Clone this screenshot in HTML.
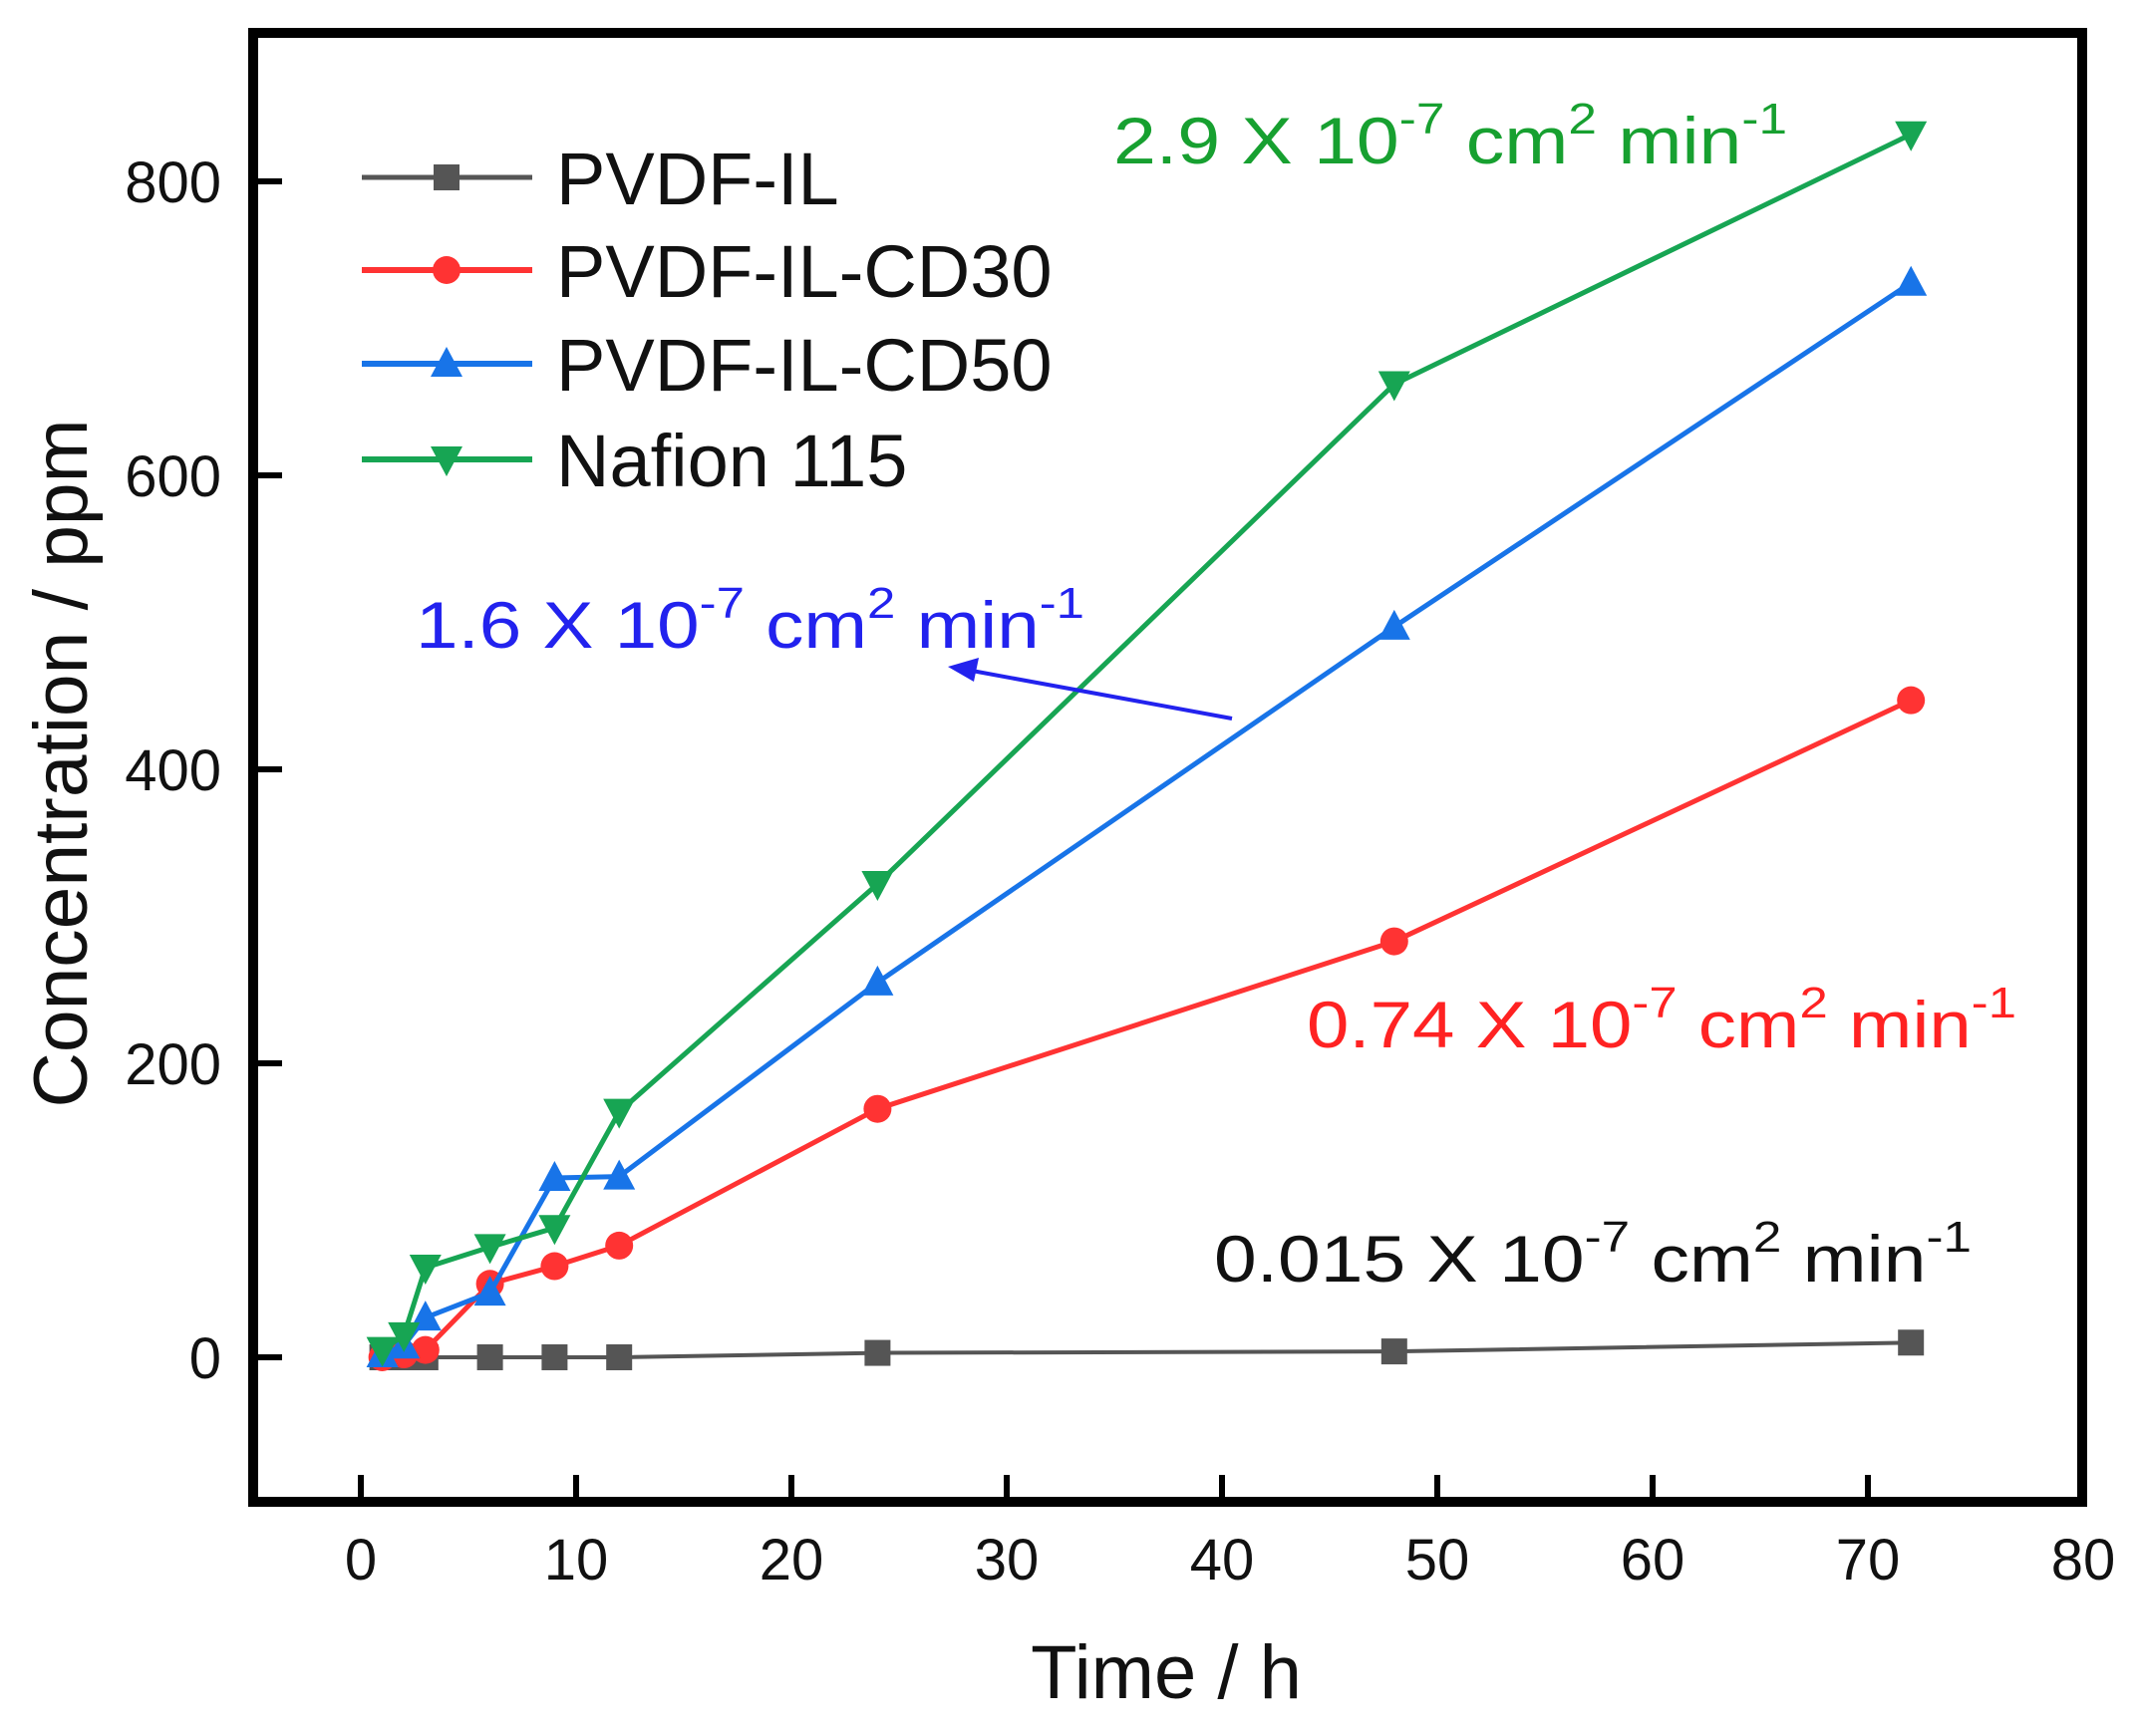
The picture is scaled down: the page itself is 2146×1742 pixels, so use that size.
<!DOCTYPE html>
<html><head><meta charset="utf-8"><style>
html,body{margin:0;padding:0;background:#fff;}
svg{display:block;font-family:"Liberation Sans",Arial,sans-serif;}
</style></head><body>
<svg id="chart" width="2146" height="1742" viewBox="0 0 2146 1742">
<g id="plot"></g>
</svg>
<script>
const times = [1, 2, 3, 6, 9, 12, 24, 48, 72];
const pvdfIL = [0, 0, 0, 0, 0, 0, 3, 4, 10];
const pvdfCD30 = [0, 2, 5, 50, 62, 76, 169, 283, 447];
const pvdfCD50 = [2, 8, 27, 44, 122, 123, 255, 497, 731];
const nafion = [5, 15, 61, 75, 88, 167, 322, 662, 832];
const xTicks = [0, 10, 20, 30, 40, 50, 60, 70, 80];
const yTicks = [0, 200, 400, 600, 800];

const NS = "http://www.w3.org/2000/svg";
const g = document.getElementById('plot');
const X = v => 362 + (v - 0) * 21.6;
const Y = v => 1362 - v * 1.475;
function el(tag, attrs, parent) {
  const e = document.createElementNS(NS, tag);
  for (const k in attrs) e.setAttribute(k, attrs[k]);
  (parent || g).appendChild(e);
  return e;
}
const frame = el('rect', {x: 254, y: 33, width: 1835, height: 1474, fill: 'none', stroke: '#000', 'stroke-width': 10});


xTicks.forEach(t => {
  const tk = el('line', {x1: X(t), x2: X(t), y1: 1507, y2: 1480, stroke: '#000', 'stroke-width': 6});
  
  
  const lb = el('text', {x: X(t), y: 1585, 'font-size': 58, 'text-anchor': 'middle', fill: '#111'});
  lb.textContent = t;
  
  
});
yTicks.forEach(t => {
  const tk = el('line', {x1: 254, x2: 283, y1: Y(t), y2: Y(t), stroke: '#000', 'stroke-width': 6});
  
  
  const lb = el('text', {x: 222, y: Y(t) + 21, 'font-size': 58, 'text-anchor': 'end', fill: '#111'});
  lb.textContent = t;
  
  
});
const xt = el('text', {x: 1170, y: 1704, 'font-size': 76, 'text-anchor': 'middle', fill: '#111'});
xt.textContent = 'Time / h';


const yt = el('text', {x: 0, y: 0, 'font-size': 76, 'text-anchor': 'middle', fill: '#111', transform: 'translate(87,766) rotate(-90)', textLength: 691, lengthAdjust: 'spacingAndGlyphs'});
yt.textContent = 'Concentration / ppm';



function marker(shape, cx, cy, color, parent) {
  let m;
  if (shape === 'square') m = el('rect', {x: cx - 13, y: cy - 13, width: 26, height: 26, fill: color}, parent);
  else if (shape === 'circle') m = el('circle', {cx: cx, cy: cy, r: 14, fill: color}, parent);
  else if (shape === 'up') m = el('polygon', {points: `${cx},${cy-17} ${cx+16},${cy+13} ${cx-16},${cy+13}`, fill: color}, parent);
  else m = el('polygon', {points: `${cx},${cy+17} ${cx+16},${cy-13} ${cx-16},${cy-13}`, fill: color}, parent);
  return m;
}
const series = [
  {name: 'PVDF-IL', vals: pvdfIL, color: '#555555', shape: 'square', w: 4, key: 'pvdf-il'},
  {name: 'PVDF-IL-CD30', vals: pvdfCD30, color: '#ff3333', shape: 'circle', w: 5, key: 'pvdf-il-cd30'},
  {name: 'PVDF-IL-CD50', vals: pvdfCD50, color: '#1874e8', shape: 'up', w: 5, key: 'pvdf-il-cd50'},
  {name: 'Nafion 115', vals: nafion, color: '#17a553', shape: 'down', w: 5, key: 'nafion-115'}
];
series.forEach((s, i) => {
  const sg = el('g', {});
  
  
  const pts = times.map((t, j) => X(t) + ',' + Y(s.vals[j])).join(' ');
  const pl = el('polyline', {points: pts, fill: 'none', stroke: s.color, 'stroke-width': s.w, 'stroke-linejoin': 'round'}, sg);
  
  
  times.forEach((t, j) => {
    const m = marker(s.shape, X(t), Y(s.vals[j]), s.color, sg);
    
    
  });
  const ly = [178, 271, 365, 461][i];
  const lg = el('g', {});
  
  
  el('line', {x1: 363, x2: 534, y1: ly, y2: ly, stroke: s.color, 'stroke-width': s.w + 1}, lg);
  marker(s.shape, 448, ly, s.color, lg);
  const lt = el('text', {x: 558, y: ly + 27, 'font-size': 74, fill: '#111'}, lg);
  lt.textContent = s.name;
});
function annot(x, y, len, color, pre, name) {
  const t = el('text', {x: x, y: y, 'font-size': 66, fill: color, textLength: len, lengthAdjust: 'spacingAndGlyphs'});
  t.innerHTML = pre + ' X 10<tspan dy="-30" font-size="44">-7</tspan><tspan dy="30"> cm</tspan><tspan dy="-30" font-size="44">2</tspan><tspan dy="30"> min</tspan><tspan dy="-30" font-size="44">-1</tspan>';
  
  
}
annot(1117, 164, 676, '#17a030', '2.9', 'nafion-rate-label');
annot(417, 650, 671, '#2222ee', '1.6', 'cd50-rate-label');
annot(1311, 1051, 712, '#ff2222', '0.74', 'cd30-rate-label');
annot(1218, 1286, 760, '#111111', '0.015', 'pvdf-il-rate-label');
const ar = el('line', {x1: 1236, y1: 721, x2: 975, y2: 673, stroke: '#2222ee', 'stroke-width': 4});


const ah = el('polygon', {points: '951,669 982,660 977,684', fill: '#2222ee'});


</script>
</body></html>
